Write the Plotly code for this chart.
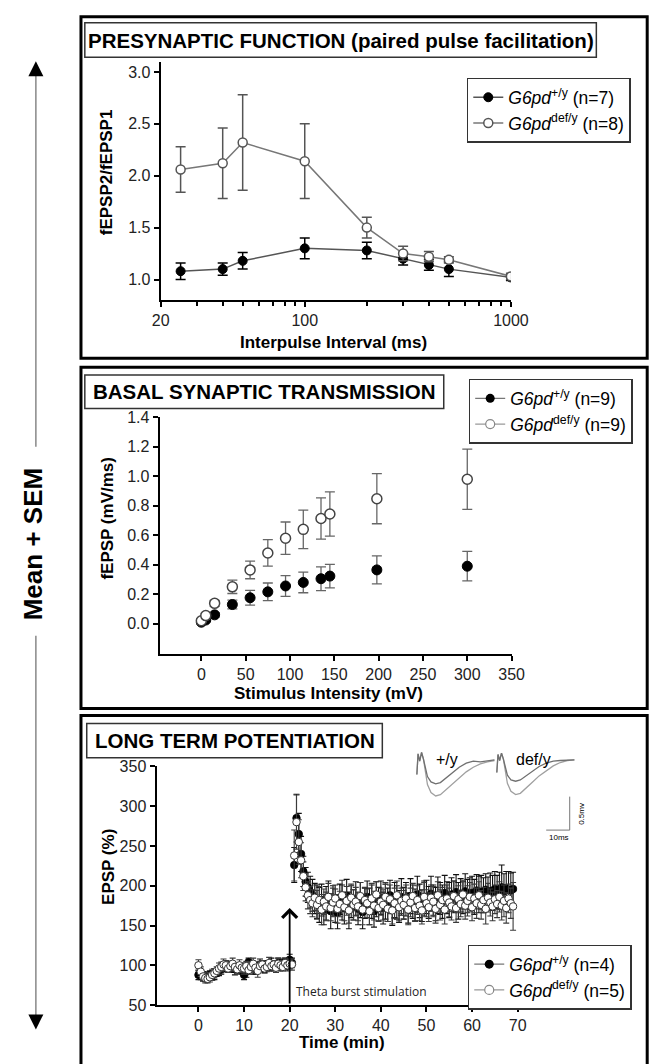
import plotly.graph_objects as go

W, H = 670, 1064
FONT = "Liberation Sans, Arial, Helvetica, sans-serif"

# ---------------- Panel 1: paired pulse facilitation ----------------
ppf_interval = [25, 40, 50, 100, 200, 300, 400, 500, 1000]
ppf_wt = [1.08, 1.10, 1.18, 1.30, 1.28, 1.20, 1.14, 1.10, 1.02]
ppf_wt_sem = [0.08, 0.06, 0.08, 0.10, 0.08, 0.06, 0.05, 0.07, 0.03]
ppf_def = [2.06, 2.12, 2.32, 2.14, 1.50, 1.25, 1.22, 1.19, 1.03]
ppf_def_sem = [0.22, 0.34, 0.46, 0.36, 0.10, 0.07, 0.05, 0.03, 0.03]
ppf_minor_ticks = [30, 40, 50, 60, 70, 80, 90, 200, 300, 400, 500, 600, 700, 800, 900]

# ---------------- Panel 2: input/output ----------------
io_stim = [0, 5, 15, 35, 55, 75, 95, 115, 135, 145, 198, 300]
io_wt = [0.01, 0.025, 0.06, 0.13, 0.176, 0.216, 0.256, 0.28, 0.305, 0.323, 0.365, 0.39]
io_wt_sem = [0.01, 0.01, 0.015, 0.03, 0.05, 0.06, 0.07, 0.07, 0.08, 0.08, 0.095, 0.10]
io_def = [0.02, 0.055, 0.138, 0.25, 0.365, 0.48, 0.58, 0.64, 0.714, 0.744, 0.848, 0.98]
io_def_sem = [0.01, 0.015, 0.02, 0.045, 0.06, 0.09, 0.11, 0.13, 0.14, 0.15, 0.17, 0.205]

# ---------------- Panel 3: LTP (one sample every 30 s) ----------------
ltp_sample_min = 0.5
ltp_wt = [
    88, 87, 86, 85, 86, 88, 87, 89, 91, 93,
    95, 97, 99, 98, 100, 97, 95, 98, 96, 94,
    88, 92, 104, 100, 97, 95, 99, 101, 98, 96,
    100, 98, 102, 99, 101, 103, 100, 102, 104, 101,
    107, 103, 226, 285, 265, 240, 218, 205, 198, 192,
    188, 184, 180, 176, 182, 170, 178, 186, 168, 181,
    175, 166, 183, 179, 172, 187, 169, 180, 176, 184,
    171, 182, 167, 178, 186, 174, 180, 168, 183, 177,
    185, 172, 180, 176, 188, 170, 182, 179, 174, 186,
    178, 183, 172, 187, 180, 176, 189, 181, 175, 184,
    186, 179, 190, 182, 177, 188, 184, 180, 191, 185,
    182, 189, 186, 192, 181, 188, 185, 193, 187, 190,
    191, 186, 194, 189, 192, 188, 195, 190, 193, 191,
    196, 192, 194, 198, 193, 197, 195, 194, 196,
]
ltp_wt_sem = [
    6, 5, 6, 5, 6, 5, 6, 7, 5, 6,
    6, 5, 7, 6, 5, 6, 7, 5, 6, 5,
    6, 7, 5, 6, 8, 6, 5, 7, 6, 5,
    6, 5, 7, 6, 5, 6, 7, 6, 5, 6,
    7, 6, 22, 30, 26, 22, 19, 18, 19, 20,
    20, 19, 21, 22, 20, 19, 21, 20, 22, 19,
    21, 20, 19, 22, 20, 21, 23, 20, 19, 21,
    20, 22, 21, 19, 20, 23, 21, 20, 22, 21,
    21, 20, 22, 21, 19, 20, 22, 21, 20, 23,
    20, 21, 19, 22, 21, 20, 23, 21, 20, 22,
    21, 20, 22, 19, 21, 23, 20, 21, 22, 20,
    22, 21, 20, 22, 23, 21, 20, 22, 21, 20,
    21, 22, 20, 23, 21, 22, 20, 21, 23, 22,
    22, 21, 23, 28, 22, 21, 23, 22, 21,
]
ltp_def = [
    100, 92, 86, 84, 83, 85, 88, 90, 93, 96,
    98, 101, 100, 96, 99, 102, 98, 95, 100, 97,
    96, 99, 94, 98, 102, 97, 93, 99, 101, 96,
    98, 103, 99, 101, 97, 102, 100, 98, 103, 100,
    102, 101, 238, 280, 255, 232, 212, 198, 188, 182,
    178, 185, 176, 182, 170, 180, 174, 186, 172, 179,
    184, 171, 177, 188, 173, 181, 169, 185, 176, 180,
    174, 187, 170, 182, 178, 168, 184, 175, 189, 172,
    180, 176, 186, 171, 183, 169, 178, 188, 173, 181,
    176, 184, 170, 179, 187, 172, 182, 175, 169, 186,
    178, 173, 185, 180, 171, 188, 176, 182, 170, 184,
    179, 174, 187, 172, 183, 177, 189, 175, 181, 186,
    173, 184, 178, 188, 176, 182, 171, 185, 179, 174,
    183, 177, 186, 175, 181, 172, 184, 178, 174,
]
ltp_def_sem = [
    7, 6, 5, 6, 5, 6, 7, 6, 5, 7,
    6, 7, 6, 5, 6, 7, 5, 6, 7, 6,
    7, 6, 5, 6, 7, 6, 8, 6, 5, 6,
    6, 7, 6, 5, 6, 7, 6, 5, 6, 7,
    6, 7, 32, 34, 28, 22, 18, 17, 17, 17,
    17, 16, 18, 17, 19, 16, 18, 17, 16, 18,
    17, 18, 16, 19, 17, 18, 16, 17, 19, 18,
    18, 17, 19, 16, 18, 17, 19, 18, 16, 17,
    17, 19, 18, 16, 18, 17, 19, 18, 17, 16,
    18, 17, 19, 18, 16, 17, 18, 19, 17, 18,
    17, 18, 16, 19, 18, 17, 19, 16, 18, 17,
    18, 17, 19, 18, 17, 16, 18, 17, 19, 18,
    17, 18, 19, 17, 18, 16, 19, 18, 17, 18,
    18, 17, 19, 18, 20, 19, 18, 19, 30,
]
ltp_time = [i * ltp_sample_min for i in range(len(ltp_wt))]
tbs_time = 20
tbs_arrow_top = 172

# ---------------- Inset: example fEPSP traces (ms, mV) ----------------
trace_ms = [0, 0.5, 1.2, 2.0, 2.8, 3.5, 4.5, 6, 8, 10, 12, 15, 18, 21, 24, 27, 30, 33]
wt_pre_mv = [-0.25, 0.06, -0.05, 0.08, -0.02, -0.15, -0.28, -0.36, -0.39, -0.37, -0.31, -0.22, -0.14, -0.08, -0.05, -0.06, -0.04, -0.03]
wt_post_mv = [-0.25, 0.06, -0.05, 0.08, -0.02, -0.20, -0.40, -0.52, -0.57, -0.55, -0.49, -0.39, -0.30, -0.21, -0.14, -0.09, -0.06, -0.04]
def_offset_ms = 34
def_pre_mv = [-0.22, 0.05, -0.04, 0.07, -0.02, -0.14, -0.26, -0.33, -0.35, -0.33, -0.28, -0.20, -0.13, -0.08, -0.05, -0.04, -0.03, -0.03]
def_post_mv = [-0.22, 0.05, -0.04, 0.07, -0.02, -0.19, -0.38, -0.50, -0.55, -0.53, -0.47, -0.37, -0.27, -0.19, -0.12, -0.07, -0.04, -0.03]
scalebar_ms = [55, 65, 65]
scalebar_mv = [-1.08, -1.08, -0.58]

WT_NAME = {
    "p1": "<i>G6pd</i><sup>+/y</sup> (n=7)",
    "p2": "<i>G6pd</i><sup>+/y</sup> (n=9)",
    "p3": "<i>G6pd</i><sup>+/y</sup> (n=4)",
}
DEF_NAME = {
    "p1": "<i>G6pd</i><sup>def/y</sup> (n=8)",
    "p2": "<i>G6pd</i><sup>def/y</sup> (n=9)",
    "p3": "<i>G6pd</i><sup>def/y</sup> (n=5)",
}


def px(x):
    return x / W


def py(y):
    return 1 - y / H


fig = go.Figure()

# ---- panel 1
fig.add_trace(go.Scatter(
    x=ppf_interval, y=ppf_wt, mode="lines+markers", xaxis="x", yaxis="y",
    name=WT_NAME["p1"], legend="legend",
    line=dict(color="#555555", width=1.5),
    marker=dict(color="black", size=9, line=dict(color="black", width=1)),
    error_y=dict(type="data", array=ppf_wt_sem, color="black", thickness=1.5, width=5),
))
fig.add_trace(go.Scatter(
    x=ppf_interval, y=ppf_def, mode="lines+markers", xaxis="x", yaxis="y",
    name=DEF_NAME["p1"], legend="legend",
    line=dict(color="#777777", width=1.5),
    marker=dict(color="white", size=9, line=dict(color="#555555", width=1.5)),
    error_y=dict(type="data", array=ppf_def_sem, color="#555555", thickness=1.5, width=5),
))

# ---- panel 2
fig.add_trace(go.Scatter(
    x=io_stim, y=io_wt, mode="markers", xaxis="x2", yaxis="y2", showlegend=False,
    marker=dict(color="black", size=10, line=dict(color="black", width=1)),
    error_y=dict(type="data", array=io_wt_sem, color="#666666", thickness=1.3, width=5),
))
fig.add_trace(go.Scatter(
    x=io_stim, y=io_def, mode="markers", xaxis="x2", yaxis="y2", showlegend=False,
    marker=dict(color="white", size=10, line=dict(color="#444444", width=1.5)),
    error_y=dict(type="data", array=io_def_sem, color="#666666", thickness=1.3, width=5),
))
fig.add_trace(go.Scatter(
    x=[None], y=[None], mode="lines+markers", xaxis="x2", yaxis="y2",
    name=WT_NAME["p2"], legend="legend2",
    line=dict(color="#777777", width=1.2),
    marker=dict(color="black", size=9),
))
fig.add_trace(go.Scatter(
    x=[None], y=[None], mode="lines+markers", xaxis="x2", yaxis="y2",
    name=DEF_NAME["p2"], legend="legend2",
    line=dict(color="#999999", width=1.2),
    marker=dict(color="white", size=9, line=dict(color="#888888", width=1.2)),
))

# ---- panel 3
fig.add_trace(go.Scatter(
    x=ltp_time, y=ltp_wt, mode="markers", xaxis="x3", yaxis="y3", showlegend=False,
    marker=dict(color="black", size=7.5, line=dict(color="black", width=0.8)),
    error_y=dict(type="data", array=ltp_wt_sem, color="#111111", thickness=1.1, width=3),
))
fig.add_trace(go.Scatter(
    x=ltp_time, y=ltp_def, mode="markers", xaxis="x3", yaxis="y3", showlegend=False,
    marker=dict(color="white", size=7.5, line=dict(color="#333333", width=1)),
    error_y=dict(type="data", array=ltp_def_sem, color="#3a3a3a", thickness=1.1, width=3),
))
fig.add_trace(go.Scatter(
    x=[None], y=[None], mode="lines+markers", xaxis="x3", yaxis="y3",
    name=WT_NAME["p3"], legend="legend3",
    line=dict(color="#777777", width=1.2),
    marker=dict(color="black", size=9),
))
fig.add_trace(go.Scatter(
    x=[None], y=[None], mode="lines+markers", xaxis="x3", yaxis="y3",
    name=DEF_NAME["p3"], legend="legend3",
    line=dict(color="#999999", width=1.2),
    marker=dict(color="white", size=9, line=dict(color="#888888", width=1.2)),
))

# ---- inset traces
for xs_off, pre, post in [(0, wt_pre_mv, wt_post_mv), (def_offset_ms, def_pre_mv, def_post_mv)]:
    xs = [t + xs_off for t in trace_ms]
    fig.add_trace(go.Scatter(x=xs, y=post, mode="lines", xaxis="x4", yaxis="y4",
                             showlegend=False, line=dict(color="#a0a0a0", width=1.3)))
    fig.add_trace(go.Scatter(x=xs, y=pre, mode="lines", xaxis="x4", yaxis="y4",
                             showlegend=False, line=dict(color="#707070", width=1.3)))
fig.add_trace(go.Scatter(x=scalebar_ms, y=scalebar_mv, mode="lines", xaxis="x4", yaxis="y4",
                         showlegend=False, line=dict(color="#777777", width=1)))

axis_common = dict(
    showline=True, linecolor="black", linewidth=2, ticks="outside", ticklen=5,
    tickwidth=2, tickcolor="black", showgrid=False, zeroline=False,
    tickfont=dict(family=FONT, size=16, color="#222222"),
)

fig.update_layout(
    width=W, height=H, margin=dict(l=0, r=0, t=0, b=0),
    paper_bgcolor="white", plot_bgcolor="rgba(0,0,0,0)",
    font=dict(family=FONT, color="black"),
    xaxis=dict(axis_common, type="log", range=[1.30103, 3],
               domain=[px(158), px(523)], anchor="y",
               tickvals=[20, 100, 1000], ticktext=["20", "100", "1000"],
               minor=dict(tickvals=ppf_minor_ticks, ticklen=4, tickwidth=2, tickcolor="black", ticks="outside")),
    yaxis=dict(axis_common, range=[0.8, 3.095], domain=[py(297), py(55)], anchor="x",
               tickvals=[1.0, 1.5, 2.0, 2.5, 3.0], tickformat=".1f"),
    xaxis2=dict(axis_common, range=[-47, 350], domain=[px(157), px(523.7)], anchor="y2",
                tickvals=[0, 50, 100, 150, 200, 250, 300, 350]),
    yaxis2=dict(axis_common, range=[-0.207, 1.4], domain=[py(656.7), py(416)], anchor="x2",
                tickvals=[0, 0.2, 0.4, 0.6, 0.8, 1.0, 1.2, 1.4], tickformat=".1f"),
    xaxis3=dict(axis_common, range=[-9.2, 70], domain=[px(153.7), px(530)], anchor="y3",
                tickvals=[0, 10, 20, 30, 40, 50, 60, 70]),
    yaxis3=dict(axis_common, range=[50, 350], domain=[py(1013.3), py(770.7)], anchor="x3",
                tickvals=[50, 100, 150, 200, 250, 300, 350]),
    xaxis4=dict(visible=False, range=[-2.04, 71.43], domain=[px(420), px(600)], anchor="y4"),
    yaxis4=dict(visible=False, range=[-1.294, 0.1765], domain=[py(850), py(750)], anchor="x4"),
)

legend_common = dict(
    xanchor="left", yanchor="top", bgcolor="white", bordercolor="#333333", borderwidth=1.5,
    font=dict(family=FONT, size=17.5, color="black"), itemwidth=30, tracegroupgap=0,
)
fig.update_layout(
    legend=dict(legend_common, x=px(477), y=py(71)),
    legend2=dict(legend_common, x=px(479), y=py(377)),
    legend3=dict(legend_common, x=px(478), y=py(952)),
)

shapes = []
# panel frames
for y0, y1 in [(9, 356), (365, 712), (719, 1075)]:
    shapes.append(dict(type="rect", xref="paper", yref="paper", x0=px(75), x1=px(665),
                       y0=py(y1), y1=py(y0), line=dict(color="black", width=3)))
# title boxes
for x0, x1, y0, y1 in [(79, 612, 15, 50), (79, 453, 373, 407), (81, 389, 727, 762)]:
    shapes.append(dict(type="rect", xref="paper", yref="paper", x0=px(x0), x1=px(x1),
                       y0=py(y1), y1=py(y0), line=dict(color="#333333", width=1.5),
                       fillcolor="white"))
# Mean + SEM guide lines
shapes.append(dict(type="line", xref="paper", yref="paper", x0=px(28), x1=px(28),
                   y0=py(60), y1=py(446), line=dict(color="#888888", width=1.5)))
shapes.append(dict(type="line", xref="paper", yref="paper", x0=px(28), x1=px(28),
                   y0=py(638), y1=py(1030), line=dict(color="#888888", width=1.5)))
fig.update_layout(shapes=shapes)

ann = []


def text(x, y, s, size, bold=False, angle=0, xanchor="center", family=FONT, color="black"):
    ann.append(dict(xref="paper", yref="paper", x=px(x), y=py(y), text=("<b>%s</b>" % s) if bold else s,
                    showarrow=False, textangle=angle, xanchor=xanchor, yanchor="middle",
                    font=dict(family=family, size=size, color=color)))


text(345.5, 33, "PRESYNAPTIC FUNCTION (paired pulse facilitation)", 20.5, bold=True)
text(266, 390, "BASAL SYNAPTIC TRANSMISSION", 20.5, bold=True)
text(235, 744.5, "LONG TERM POTENTIATION", 20.5, bold=True)

text(338.5, 340, "Interpulse Interval (ms)", 17, bold=True)
text(101, 167, "fEPSP2/fEPSP1", 17, bold=True, angle=-90)
text(333, 697, "Stimulus Intensity (mV)", 17, bold=True)
text(103, 518, "fEPSP (mV/ms)", 17, bold=True, angle=-90)
text(347, 1051, "Time (min)", 17, bold=True)
text(103, 873, "EPSP (%)", 17, bold=True, angle=-90)

text(25, 545, "Mean + SEM", 26, bold=True, angle=-90)

text(297, 999, "Theta burst stimulation", 12, xanchor="left", family="Open Sans, sans-serif", color="#222222")
text(456, 764, "+/y", 16)
text(547, 764, "def/y", 16)
text(573, 843, "10ms", 8)
text(597, 819, "0.5mv", 8, angle=-90)

# TBS arrow (data coords)
ann.append(dict(xref="x3", yref="y3", x=tbs_time, y=tbs_arrow_top, axref="x3", ayref="y3",
                ax=tbs_time, ay=50, showarrow=True, arrowhead=4, arrowsize=1.6, arrowwidth=1.8,
                arrowcolor="black", text=""))
# Mean + SEM arrowheads
ann.append(dict(xref="paper", yref="paper", x=px(28), y=py(54), ax=0, ay=12, showarrow=True,
                arrowhead=2, arrowsize=2, arrowwidth=1.5, arrowcolor="black", text=""))
ann.append(dict(xref="paper", yref="paper", x=px(28), y=py(1038), ax=0, ay=-12, showarrow=True,
                arrowhead=2, arrowsize=2, arrowwidth=1.5, arrowcolor="black", text=""))
fig.update_layout(annotations=ann)

fig.write_html("out.html", config={"displayModeBar": False},
               post_script="document.body.style.margin='0';document.body.style.overflow='hidden';")
